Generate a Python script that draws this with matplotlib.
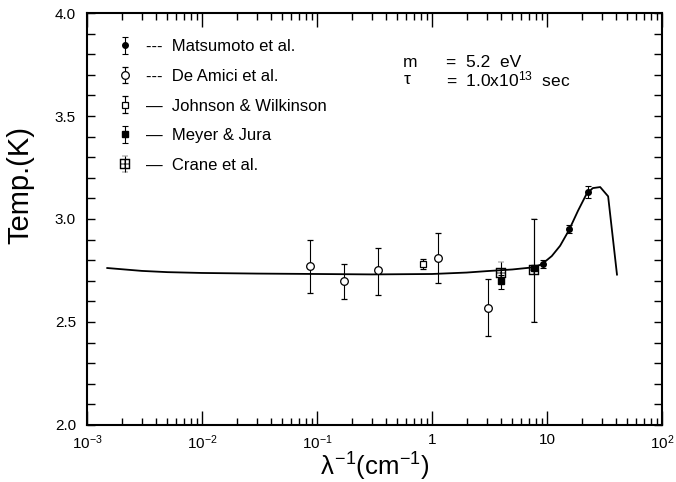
import matplotlib
matplotlib.use("Agg")
import matplotlib.pyplot as plt
from matplotlib.ticker import FixedLocator, FuncFormatter, MultipleLocator

plt.rcParams['font.family'] = ['Liberation Sans', 'DejaVu Sans']
plt.rcParams['mathtext.fontset'] = 'custom'
plt.rcParams['mathtext.rm'] = 'Liberation Sans'
plt.rcParams['mathtext.it'] = 'Liberation Sans'

# ---- data ----
curve_x = [0.0015, 0.003, 0.005, 0.01, 0.03, 0.1, 0.3, 1.0, 2.0, 3.0, 5.0, 7.5,
           9.0, 11.0, 13.0, 15.5, 18.6, 22.0, 25.0, 29.0, 34.0, 40.6]
curve_T = [2.762, 2.748, 2.742, 2.738, 2.735, 2.733, 2.731, 2.733, 2.740, 2.747, 2.755, 2.765,
           2.780, 2.820, 2.870, 2.945, 3.040, 3.120, 3.150, 3.155, 3.110, 2.730]

mats_x = [9.2, 15.5, 22.7]
mats_T = [2.78, 2.95, 3.13]
mats_err = [0.02, 0.02, 0.03]

deam_x = [0.087, 0.17, 0.34, 1.13, 3.07]
deam_T = [2.77, 2.70, 2.75, 2.81, 2.57]
deam_err_lo = [0.13, 0.09, 0.12, 0.12, 0.14]
deam_err_hi = [0.13, 0.08, 0.11, 0.12, 0.14]

jw_x = [0.835]
jw_T = [2.78]
jw_err = [0.025]

mj_x = [3.95, 7.7]
mj_T = [2.70, 2.76]
mj_err_lo = [0.04, 0.26]
mj_err_hi = [0.03, 0.24]

cr_x = [3.95, 7.7]
cr_T = [2.74, 2.75]
cr_err_lo = [0.03, 0.25]
cr_err_hi = [0.05, 0.25]

labels = ["---  Matsumoto et al.", "---  De Amici et al.", "—  Johnson & Wilkinson",
          "—  Meyer & Jura", "—  Crane et al."]
xtick_vals = [1e-3, 1e-2, 1e-1, 1, 10, 100]
xtick_labels = [r'$10^{-3}$', r'$10^{-2}$', r'$10^{-1}$', '1', '10', r'$10^{2}$']

# ---- figure ----
fig = plt.figure(figsize=(6.76, 4.82), dpi=100)
ax = fig.add_axes([0.1287, 0.1183, 0.8506, 0.8547])

ax.plot(curve_x, curve_T, color='black', lw=1.3, zorder=2)

ekw = dict(ecolor='black', elinewidth=0.8, capsize=2, capthick=0.8, zorder=3, linestyle='none')
h1 = ax.errorbar(mats_x, mats_T, yerr=mats_err, marker='o', ms=4, mfc='black', mec='black', **ekw)
h2 = ax.errorbar(deam_x, deam_T, yerr=[deam_err_lo, deam_err_hi], marker='o', ms=5.5,
                 mfc='white', mec='black', mew=0.9, **ekw)
h3 = ax.errorbar(jw_x, jw_T, yerr=jw_err, marker='s', ms=5, mfc='white', mec='black', mew=0.9, **ekw)
h4 = ax.errorbar(mj_x, mj_T, yerr=[mj_err_lo, mj_err_hi], marker='s', ms=4.5, mfc='black',
                 mec='black', **ekw)
h5 = ax.errorbar(cr_x, cr_T, yerr=[cr_err_lo, cr_err_hi], marker=r'$\boxplus$', ms=7,
                 mfc='black', mec='black', mew=0.3, **ekw)

ax.set_xscale('log')
ax.set_xlim(1e-3, 1e2)
ax.set_ylim(2.0, 4.0)

ax.xaxis.set_major_locator(FixedLocator(xtick_vals))
ax.xaxis.set_major_formatter(FuncFormatter(lambda v, p: xtick_labels[p] if p is not None and p < len(xtick_labels) else ''))
ax.yaxis.set_major_locator(MultipleLocator(0.5))
ax.yaxis.set_minor_locator(MultipleLocator(0.1))
ax.yaxis.set_major_formatter(FuncFormatter(lambda v, p: f'{v:.1f}'))

ax.tick_params(which='both', direction='in', top=True, right=True, labelsize=11, width=1.0)
ax.tick_params(axis='x', which='major', length=10, pad=6)
ax.tick_params(axis='x', which='minor', length=5)
ax.tick_params(axis='y', which='both', length=6, pad=8)
for s in ax.spines.values():
    s.set_linewidth(1.5)

ax.set_ylabel('Temp.(K)', fontsize=21)
ax.yaxis.set_label_coords(-0.092, 0.583)
ax.set_xlabel(r'$\lambda^{-1}$(cm$^{-1}$)', fontsize=18.5)
ax.xaxis.set_label_coords(0.5, -0.063)

leg = ax.legend([h1, h2, h3, h4, h5], labels, loc='upper left', frameon=False,
                fontsize=12, handlelength=0.6, handletextpad=1.0, labelspacing=0.88,
                borderaxespad=0.8, bbox_to_anchor=(0.022, 0.985))

ax.text(0.55, 0.879, 'm', transform=ax.transAxes, fontsize=12.5, va='center')
ax.text(0.624, 0.879, '=  5.2  eV', transform=ax.transAxes, fontsize=12.5, va='center')
ax.text(0.55, 0.838, r'$\tau$', transform=ax.transAxes, fontsize=12.5, va='center')
ax.text(0.624, 0.838, r'=  1.0x10$^{13}$  sec', transform=ax.transAxes, fontsize=12.5, va='center')

fig.savefig('out.png', dpi=100)
